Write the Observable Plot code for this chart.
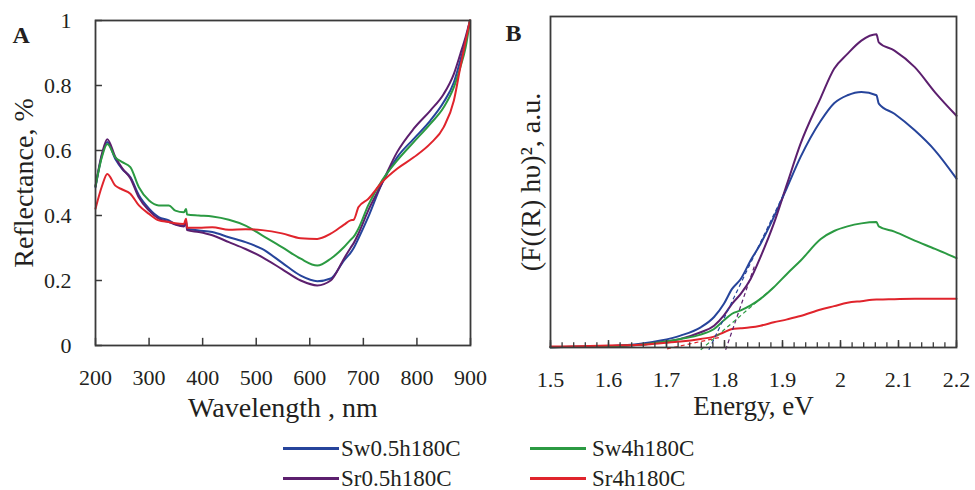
<!DOCTYPE html>
<html><head><meta charset="utf-8">
<script src="https://cdn.jsdelivr.net/npm/d3@7"></script>
<script src="https://cdn.jsdelivr.net/npm/@observablehq/plot@0.6"></script>
<style>
body{margin:0;background:#fff;}
#wrap{position:relative;width:975px;height:490px;overflow:hidden;font-family:"Liberation Serif","Times New Roman",Tinos,Times,serif;color:#231f20;background:#fff;}
.pane{position:absolute;top:0;}
.leg{position:absolute;font-size:23px;line-height:23px;white-space:nowrap;}
.sw{position:absolute;height:2.5px;}
</style></head><body><div id="wrap"></div>
<script>
// ---- data ----
const series = ["Sw0.5h180C", "Sr0.5h180C", "Sw4h180C", "Sr4h180C"];
const colors = ["#26449b", "#5c1f6e", "#2b9a42", "#e0242c"];

// Panel A: reflectance vs wavelength (nm)
const wavelength = [200, 212, 222, 237, 250, 265, 281, 300, 318, 337, 349, 365, 369, 371, 393, 418, 449, 480, 511, 548, 583, 614, 639, 664, 676, 682, 691, 709, 735, 763, 794, 825, 850, 869, 881, 891, 899];
const reflSw05 = [0.487, 0.585, 0.626, 0.574, 0.543, 0.518, 0.462, 0.421, 0.395, 0.385, 0.374, 0.369, 0.385, 0.359, 0.354, 0.349, 0.333, 0.318, 0.297, 0.255, 0.215, 0.198, 0.206, 0.262, 0.285, 0.3, 0.33, 0.395, 0.5, 0.579, 0.636, 0.692, 0.749, 0.81, 0.877, 0.938, 1.0];
const reflSr05 = [0.49, 0.59, 0.635, 0.58, 0.545, 0.515, 0.455, 0.415, 0.39, 0.38, 0.372, 0.366, 0.38, 0.355, 0.349, 0.339, 0.318, 0.297, 0.272, 0.235, 0.2, 0.185, 0.2, 0.268, 0.3, 0.315, 0.345, 0.415, 0.5, 0.595, 0.667, 0.723, 0.774, 0.836, 0.897, 0.95, 1.0];
const reflSw4 = [0.49, 0.58, 0.62, 0.579, 0.564, 0.549, 0.487, 0.446, 0.431, 0.431, 0.415, 0.41, 0.42, 0.403, 0.4, 0.397, 0.387, 0.369, 0.339, 0.303, 0.267, 0.246, 0.267, 0.303, 0.325, 0.335, 0.36, 0.431, 0.508, 0.569, 0.626, 0.682, 0.733, 0.795, 0.856, 0.918, 1.0];
const reflSr4 = [0.421, 0.49, 0.528, 0.492, 0.48, 0.467, 0.431, 0.405, 0.385, 0.38, 0.376, 0.374, 0.39, 0.362, 0.362, 0.364, 0.356, 0.358, 0.355, 0.345, 0.33, 0.328, 0.344, 0.372, 0.385, 0.387, 0.426, 0.451, 0.503, 0.544, 0.579, 0.621, 0.672, 0.754, 0.856, 0.938, 1.0];
const xTicksA = [200, 300, 400, 500, 600, 700, 800, 900];
const yTicksA = [0, 0.2, 0.4, 0.6, 0.8, 1];

// Panel B: (F(R) hv)^2 vs energy (eV), arbitrary units
const energy = [1.5, 1.55, 1.6, 1.655, 1.69, 1.724, 1.759, 1.782, 1.799, 1.813, 1.828, 1.845, 1.862, 1.885, 1.908, 1.931, 1.966, 1.989, 2.012, 2.036, 2.062, 2.066, 2.093, 2.128, 2.163, 2.2];
const kmSw05 = [0.001, 0.002, 0.004, 0.011, 0.021, 0.036, 0.061, 0.092, 0.132, 0.177, 0.207, 0.263, 0.313, 0.394, 0.484, 0.575, 0.685, 0.738, 0.762, 0.772, 0.762, 0.737, 0.706, 0.656, 0.595, 0.51];
const kmSr05 = [0.001, 0.002, 0.003, 0.008, 0.016, 0.026, 0.046, 0.066, 0.097, 0.132, 0.162, 0.207, 0.273, 0.374, 0.495, 0.615, 0.755, 0.842, 0.887, 0.927, 0.946, 0.922, 0.897, 0.847, 0.771, 0.7];
const kmSw4 = [0.001, 0.002, 0.004, 0.008, 0.016, 0.026, 0.039, 0.056, 0.082, 0.102, 0.112, 0.127, 0.147, 0.182, 0.223, 0.262, 0.328, 0.352, 0.366, 0.375, 0.379, 0.366, 0.35, 0.323, 0.298, 0.27];
const kmSr4 = [0.003, 0.004, 0.006, 0.008, 0.013, 0.018, 0.026, 0.033, 0.046, 0.056, 0.058, 0.061, 0.066, 0.076, 0.085, 0.095, 0.115, 0.125, 0.135, 0.14, 0.145, 0.145, 0.146, 0.147, 0.147, 0.147];
// Tauc tangent lines (series order as above)
const tanE1 = [1.773, 1.802, 1.759, 1.701];
const tanV1 = [-0.007, -0.007, -0.007, -0.004];
const tanE2 = [1.905, 1.853, 1.885, 1.793];
const tanV2 = [0.474, 0.253, 0.182, 0.031];
const xTicksB = [1.5, 1.6, 1.7, 1.8, 1.9, 2, 2.1, 2.2];

// ---- build tables ----
const reflAll = [reflSw05, reflSr05, reflSw4, reflSr4];
const kmAll = [kmSw05, kmSr05, kmSw4, kmSr4];
const dataA = series.flatMap((s, i) => wavelength.map((w, j) => ({s, x: w, y: reflAll[i][j]})));
const dataB = series.flatMap((s, i) => energy.map((e, j) => ({s, x: e, y: kmAll[i][j]})));
const tangents = series.map((s, i) => ({s, x1: tanE1[i], y1: tanV1[i], x2: tanE2[i], y2: tanV2[i]}));
const minorB = d3.range(0, 36).map(i => 1.5 + i * 0.02);

const ink = "#231f20";
const axisInk = "#3a3a3a";
const FONT = '"Liberation Serif", "Times New Roman", Tinos, Times, serif';
const baseStyle = {fontFamily: FONT, fontSize: "22px", background: "transparent", color: ink, overflow: "visible"};
const TICK = 22;

const plotA = Plot.plot({
  width: 490, height: 425, marginLeft: 95, marginRight: 20, marginTop: 20, marginBottom: 80,
  style: baseStyle,
  x: {domain: [200, 900], axis: null},
  y: {domain: [0, 1], axis: null},
  color: {domain: series, range: colors},
  marks: [
    Plot.line(dataA, {x: "x", y: "y", z: "s", stroke: "s", strokeWidth: 2, curve: "monotone-x"}),
    Plot.ruleX(xTicksA, {x: d => d, y1: 0, y2: 0.022, stroke: axisInk, strokeWidth: 1.5}),
    Plot.ruleY(yTicksA, {y: d => d, x1: 200, x2: 213, stroke: axisInk, strokeWidth: 1.5}),
    Plot.frame({stroke: axisInk, strokeWidth: 1.8}),
    Plot.text(xTicksA, {x: d => d, text: d => String(d), frameAnchor: "bottom", dy: 32, lineAnchor: "middle", textAnchor: "middle", fontSize: TICK, fill: ink}),
    Plot.text(yTicksA, {y: d => d, text: d => String(d), frameAnchor: "left", dx: -24, textAnchor: "end", lineAnchor: "middle", fontSize: TICK, fill: ink}),
    Plot.text(["Wavelength , nm"], {text: d => d, frameAnchor: "bottom", dy: 63, fontSize: 28, lineAnchor: "middle", textAnchor: "middle", fill: ink}),
    Plot.text(["Reflectance, %"], {text: d => d, frameAnchor: "left", rotate: -90, dx: -71, fontSize: 28, lineAnchor: "middle", textAnchor: "middle", fill: ink}),
    Plot.text(["A"], {text: d => d, frameAnchor: "top-left", dx: -83, dy: 15, fontSize: 24, fontWeight: "bold", textAnchor: "start", lineAnchor: "middle", fill: ink})
  ]
});

const plotB = Plot.plot({
  width: 485, height: 425, marginLeft: 60, marginRight: 19, marginTop: 16, marginBottom: 78,
  style: baseStyle,
  x: {domain: [1.5, 2.2], axis: null},
  y: {domain: [0, 1], axis: null},
  color: {domain: series, range: colors},
  marks: [
    Plot.line(dataB, {x: "x", y: "y", z: "s", stroke: "s", strokeWidth: 2, curve: "monotone-x"}),
    Plot.link(tangents, {x1: "x1", y1: "y1", x2: "x2", y2: "y2", stroke: "s", strokeWidth: 1.2, strokeDasharray: "4,3"}),
    Plot.ruleX(minorB, {x: d => d, y1: 0, y2: 0.014, stroke: axisInk, strokeWidth: 1.3}),
    Plot.ruleX(xTicksB, {x: d => d, y1: 0, y2: 0.021, stroke: axisInk, strokeWidth: 1.5}),
    Plot.frame({stroke: axisInk, strokeWidth: 1.8}),
    Plot.text(xTicksB, {x: d => d, text: d => String(d), frameAnchor: "bottom", dy: 32, lineAnchor: "middle", textAnchor: "middle", fontSize: TICK, fill: ink}),
    Plot.text(["Energy, eV"], {text: d => d, frameAnchor: "bottom", dy: 59, fontSize: 27, lineAnchor: "middle", textAnchor: "middle", fill: ink}),
    Plot.text(["(F((R) h\u03c5)\u00b2, a.u."], {text: d => d, frameAnchor: "left", rotate: -90, dx: -19, fontSize: 28, lineAnchor: "middle", textAnchor: "middle", fill: ink}),
    Plot.text(["B"], {text: d => d, frameAnchor: "top-left", dx: -45, dy: 17, fontSize: 24, fontWeight: "bold", textAnchor: "start", lineAnchor: "middle", fill: ink})
  ]
});

const wrap = document.getElementById("wrap");
const pa = document.createElement("div"); pa.className = "pane"; pa.style.left = "0px"; pa.style.width = "490px"; pa.appendChild(plotA);
const pb = document.createElement("div"); pb.className = "pane"; pb.style.left = "490px"; pb.style.width = "485px"; pb.appendChild(plotB);
wrap.appendChild(pa); wrap.appendChild(pb);

// legend (HTML, below the charts)
const legPos = [[283, 448, 341, 437], [283, 478, 341, 467], [530, 448, 592, 437], [530, 478, 592, 467]];
series.forEach((s, i) => {
  const [sx, sy, tx, ty] = legPos[i];
  const sw = document.createElement("div"); sw.className = "sw";
  sw.style.left = sx + "px"; sw.style.top = (sy - 1) + "px"; sw.style.width = "56px"; sw.style.background = colors[i];
  const t = document.createElement("div"); t.className = "leg"; t.style.left = tx + "px"; t.style.top = ty + "px"; t.textContent = s;
  wrap.appendChild(sw); wrap.appendChild(t);
});
</script></body></html>
